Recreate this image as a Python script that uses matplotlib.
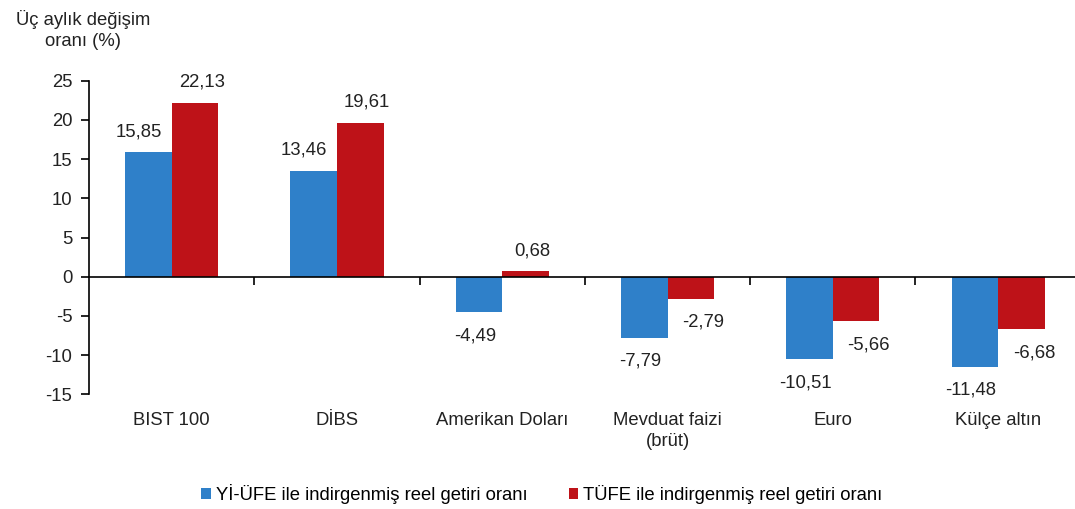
import matplotlib.pyplot as plt
import numpy as np

plt.rcParams['font.family'] = ['Liberation Sans', 'DejaVu Sans']

# veriler
kategoriler = ['BIST 100', 'DİBS', 'Amerikan Doları', 'Mevduat faizi\n(brüt)', 'Euro', 'Külçe altın']
yi_ufe = [15.85, 13.46, -4.49, -7.79, -10.51, -11.48]
tufe = [22.13, 19.61, 0.68, -2.79, -5.66, -6.68]
seri_adlari = ['Yİ-ÜFE ile indirgenmiş reel getiri oranı', 'TÜFE ile indirgenmiş reel getiri oranı']
y_ticks = [-15, -10, -5, 0, 5, 10, 15, 20, 25]

mavi = '#2F80C9'
kirmizi = '#BE1218'
fs = 13.3

fig = plt.figure(figsize=(10.75, 5.09), dpi=100)
ax = fig.add_axes([89/1075, 1 - 394.3/509, 1 - 89/1075, (394.3 - 80.7)/509])

x = np.arange(len(kategoriler))
w = 0.282
b1 = ax.bar(x - w/2, yi_ufe, w, color=mavi, label=seri_adlari[0], zorder=2)
b2 = ax.bar(x + w/2, tufe, w, color=kirmizi, label=seri_adlari[1], zorder=2)

# deger etiketleri
def etiket(bars, vals, dx_pos, dx_neg):
    for r, v in zip(bars, vals):
        cx = r.get_x() + r.get_width()/2
        txt = ('%.2f' % v).replace('.', ',')
        if v >= 0:
            ax.annotate(txt, (cx, v), xytext=(dx_pos, 15), textcoords='offset points',
                        ha='center', va='center', fontsize=fs, color='#222222')
        else:
            ax.annotate(txt, (cx, v), xytext=(dx_neg, -17), textcoords='offset points',
                        ha='center', va='center', fontsize=fs, color='#222222')

etiket(b1, yi_ufe, -7, -3)
etiket(b2, tufe, 5, 9)

ax.set_xlim(-0.5, 5.465)
ax.set_ylim(-15, 25)
ax.set_yticks(y_ticks)
ax.set_yticklabels([str(t) for t in y_ticks], fontsize=fs, color='#222222')
ax.tick_params(axis='y', direction='out', length=6, width=1.2, pad=6)

for s in ['top', 'right']:
    ax.spines[s].set_visible(False)
ax.spines['left'].set_linewidth(1.2)
ax.spines['bottom'].set_position(('data', 0))
ax.spines['bottom'].set_linewidth(1.2)
ax.spines['bottom'].set_zorder(3)

# kategori sinirlarinda tik
ax.set_xticks(x[:-1] + 0.5)
ax.set_xticklabels([])
ax.tick_params(axis='x', direction='out', length=6, width=1.2)

# kategori etiketleri
for xi, k in zip(x, kategoriler):
    ax.text(xi, -0.058, k, transform=ax.get_xaxis_transform(), ha='center', va='top',
            fontsize=fs, color='#222222', linespacing=1.25)

fig.text(83/1075, 1 - 30/509, 'Üç aylık değişim\noranı (%)', ha='center', va='center',
         fontsize=fs, color='#222222', linespacing=1.3)

fig.legend(handles=[b1, b2], loc='center', bbox_to_anchor=(542/1075, 1 - 494/509), ncol=2,
           frameon=False, fontsize=fs, handlelength=0.5, handleheight=0.5, handletextpad=0.3,
           columnspacing=2.2)

plt.savefig('out.png', dpi=100)
